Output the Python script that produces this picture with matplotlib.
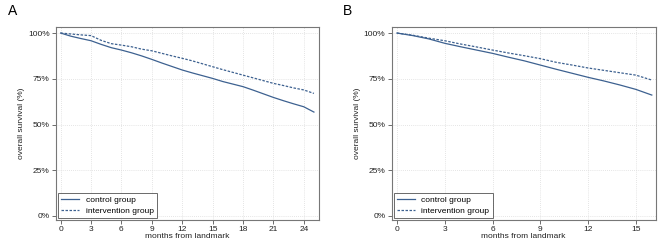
import matplotlib
matplotlib.use("Agg")
import matplotlib.pyplot as plt
from matplotlib.ticker import FuncFormatter

plt.rcParams['font.family'] = ['Liberation Sans', 'DejaVu Sans']

months_a = list(range(0, 26))
control_a = [100, 98.3, 97, 95.8, 93.8, 92, 90.7, 89.2, 87.5, 85.6, 83.6, 81.7, 79.8,
             78.2, 76.7, 75.2, 73.5, 72.1, 70.7, 68.8, 66.8, 64.8, 63, 61.3, 59.7, 56.8]
interv_a = [100, 99.5, 99, 98.6, 96, 94.2, 93.4, 92.5, 91.2, 90.3, 88.9, 87.5, 86.2,
            84.8, 83.2, 81.6, 80, 78.5, 77, 75.5, 74, 72.5, 71.3, 70, 68.9, 67]

months_b = list(range(0, 17))
control_b = [100, 98.6, 96.8, 94.4, 92.5, 90.7, 88.9, 86.8, 84.8, 82.5, 80.2, 78, 75.8,
             73.8, 71.6, 69.2, 66.1]
interv_b = [100, 98.8, 97.2, 95.8, 94, 92.4, 90.7, 89.1, 87.6, 86, 84, 82.5, 80.9,
            79.6, 78.3, 77, 74.3]

xticks_a = [0, 3, 6, 9, 12, 15, 18, 21, 24]
xticks_b = [0, 3, 6, 9, 12, 15]
yticks = [0, 25, 50, 75, 100]
labels = ["control group", "intervention group"]
panel_names = ["A", "B"]

color = "#3d6190"
fig = plt.figure(figsize=(6.69, 2.49), dpi=100)
axA = fig.add_axes([0.0837, 0.1165, 0.3931, 0.775])
axB = fig.add_axes([0.5855, 0.1165, 0.3945, 0.775])

for ax, m, c, i, xt, xl, name, lx in [
        (axA, months_a, control_a, interv_a, xticks_a, (-0.46, 25.5), panel_names[0], 0.012),
        (axB, months_b, control_b, interv_b, xticks_b, (-0.33, 16.24), panel_names[1], 0.513)]:
    ax.plot(m, c, color=color, lw=0.9, label=labels[0])
    ax.plot(m, i, color=color, lw=0.9, ls=(0, (2.0, 1.2)), label=labels[1])
    ax.set_xlim(*xl)
    ax.set_ylim(-2.2, 103.3)
    ax.set_xticks(xt)
    ax.set_yticks(yticks)
    ax.yaxis.set_major_formatter(FuncFormatter(lambda v, p: f"{int(v)}%"))
    ax.grid(True, color="#dcdcdc", ls=(0, (1, 1.5)), lw=0.6)
    ax.tick_params(labelsize=6, length=3, width=0.6, color="#555555", pad=1.5, labelcolor="#222222")
    for s in ax.spines.values():
        s.set_color("#777777")
        s.set_linewidth(0.8)
    ax.set_xlabel("months from landmark", fontsize=6, labelpad=0, color="#222222")
    ax.set_ylabel("overall survival (%)", fontsize=6, labelpad=2, color="#222222")
    leg = ax.legend(loc="lower left", fontsize=6, frameon=True, fancybox=False,
                    borderaxespad=0.25, handlelength=2.1, borderpad=0.4, labelspacing=0.3,
                    handletextpad=0.8)
    leg.get_frame().set_edgecolor("#444444")
    leg.get_frame().set_linewidth(0.7)
    fig.text(lx, 0.955, name, fontsize=10, va="center", ha="left")

fig.savefig("out.png", dpi=100)
